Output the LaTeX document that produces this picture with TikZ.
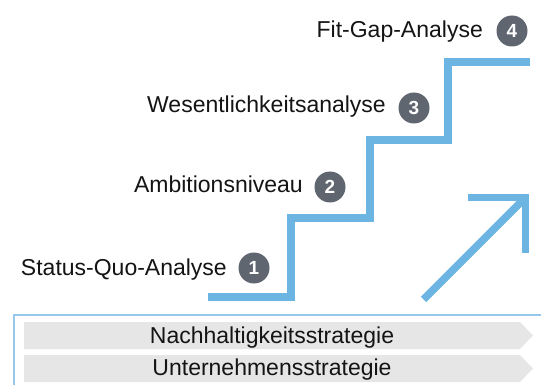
\documentclass[tikz,border=0pt]{standalone}
\usepackage{fontspec}
\setmainfont{Liberation Sans}
\definecolor{stairblue}{RGB}{108,180,226}
\definecolor{boxblue}{RGB}{150,200,236}
\definecolor{numgray}{RGB}{95,102,112}
\definecolor{bargray}{RGB}{230,230,230}
\definecolor{txt}{RGB}{20,20,20}
\begin{document}
\begin{tikzpicture}[x=1pt,y=-1pt,
  stairline/.style={draw=stairblue,line width=7.5pt,line join=miter},
  boxline/.style={draw=boxblue,line width=2pt},
  barshape/.style={fill=bargray},
  label/.style={anchor=base east,inner sep=0pt,text=txt,font=\fontsize{23}{26}\selectfont},
  bartext/.style={anchor=base,inner sep=0pt,text=txt,font=\fontsize{23}{26}\selectfont},
  num/.style={circle,fill=numgray,minimum size=31pt,inner sep=0pt,text=white,font=\fontsize{19}{21}\selectfont\bfseries}]
\useasboundingbox (0,0) rectangle (541,385);
% staircase
\coordinate (s0) at (208,297);
\coordinate (s1) at (291,218);
\coordinate (s2) at (370,140);
\coordinate (s3) at (448,62);
\coordinate (s4) at (530,62);
\draw[stairline] (s0) -| (s1) -| (s2) -| (s3) -- (s4);
% arrow
\coordinate (a0) at (423.5,299.5);
\coordinate (ac) at (525.5,197.5);
\coordinate (ah) at (468,197.5);
\coordinate (av) at (525.5,253);
\draw[stairline] (a0) -- (ac);
\draw[stairline] (ah) -- (ac) -- (av);
% labels
\node[label] (t1) at (227,275) {Status-Quo-Analyse};
\node[label] (t2) at (303,193) {Ambitionsniveau};
\node[label] (t3) at (386,113) {Wesentlichkeitsanalyse};
\node[label] (t4) at (483,38) {Fit-Gap-Analyse};
\node[num] (n1) at (254,268) {1};
\node[num] (n2) at (330,187) {2};
\node[num] (n3) at (414,108) {3};
\node[num] (n4) at (512,31) {4};
% bottom box
\draw[boxline] (13.5,386) -- (13.5,315) -- (542,315);
\path[barshape] (24,322) -- (520,322) -- (533,335.5) -- (520,349) -- (24,349) -- cycle;
\path[barshape] (24,355) -- (520,355) -- (533,368.5) -- (520,382) -- (24,382) -- cycle;
\node[bartext] (b1) at (272,343) {Nachhaltigkeitsstrategie};
\node[bartext] (b2) at (272,375) {Unternehmensstrategie};
\end{tikzpicture}
\end{document}
